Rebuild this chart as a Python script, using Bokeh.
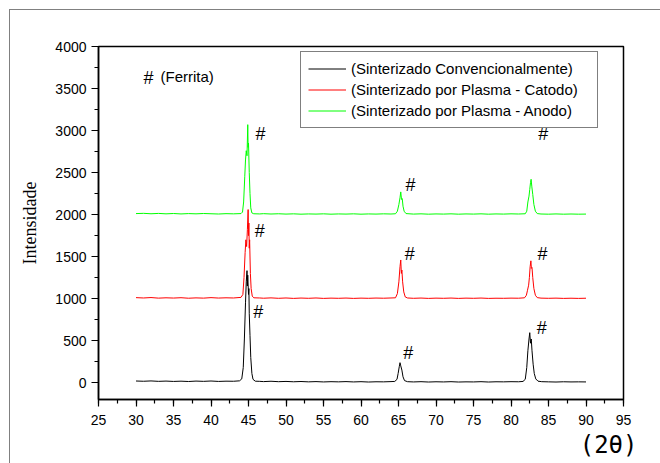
from bokeh.plotting import figure
from bokeh.models import Legend, LegendItem, Label, SingleIntervalTicker, Range1d, Title
from bokeh.embed import file_html
from bokeh.resources import INLINE
from bokeh.core.properties import value

# ---------------- data ----------------
series_names = ["(Sinterizado Convencionalmente)",
                "(Sinterizado por Plasma - Catodo)",
                "(Sinterizado por Plasma - Anodo)"]

conv_2theta = [30, 31, 32, 33, 34, 35, 36, 37, 38, 39, 40, 41, 42, 43, 43.8,
               44.1, 44.3, 44.45, 44.6, 44.7, 44.8, 44.85, 44.9, 45.0, 45.05, 45.1, 45.2, 45.3, 45.45, 45.6, 45.9,
               46.5, 47, 48, 49, 50, 51, 52, 53, 54, 55, 56, 57, 58, 59, 60, 61, 62, 63, 64,
               64.5, 64.8, 64.95, 65.1, 65.2, 65.3, 65.45, 65.6, 65.8, 66.2,
               67, 68, 69, 70, 71, 72, 73, 74, 75, 76, 77, 78, 79, 80, 81,
               81.6, 81.9, 82.1, 82.25, 82.4, 82.5, 82.6, 82.7, 82.8, 82.95, 83.1, 83.3, 83.6, 84.1,
               85, 86, 87, 88, 89, 90]
conv_int = [20, 17, 21, 16, 19, 15, 18, 14, 19, 16, 20, 15, 18, 17, 22,
            45, 180, 520, 950, 1200, 1333, 1150, 1280, 1050, 1120, 820, 560, 300, 110, 40, 18,
            16, 13, 17, 12, 15, 11, 14, 10, 13, 9, 12, 10, 13, 9, 12, 8, 11, 10, 13,
            15, 40, 110, 190, 238, 200, 150, 70, 25, 12,
            9, 12, 8, 11, 9, 12, 8, 10, 9, 12, 8, 11, 10, 12, 11,
            15, 40, 180, 380, 520, 595, 470, 520, 380, 220, 110, 45, 18, 12,
            10, 8, 11, 9, 10, 9]

cat_2theta = [30, 31, 32, 33, 34, 35, 36, 37, 38, 39, 40, 41, 42, 43, 44.0,
              44.25, 44.4, 44.55, 44.65, 44.75, 44.85, 44.95, 45.0, 45.05, 45.1, 45.15, 45.25, 45.35, 45.5, 45.7,
              46.5, 47, 48, 49, 50, 51, 52, 53, 54, 55, 56, 57, 58, 59, 60, 61, 62, 63, 64,
              64.6, 64.85, 65.05, 65.2, 65.3, 65.38, 65.45, 65.55, 65.7, 65.9, 66.2,
              67, 68, 69, 70, 71, 72, 73, 74, 75, 76, 77, 78, 79, 80, 81,
              81.8, 82.05, 82.2, 82.35, 82.45, 82.55, 82.65, 82.72, 82.8, 82.9, 83.05, 83.25, 83.5,
              84, 85, 86, 87, 88, 89, 90]
cat_int = [1012, 1008, 1013, 1006, 1010, 1007, 1011, 1005, 1009, 1006, 1012, 1007, 1010, 1008, 1015,
           1050, 1250, 1550, 1700, 1620, 1820, 2060, 1750, 1900, 1600, 1700, 1300, 1120, 1030, 1010,
           1008, 1005, 1009, 1004, 1008, 1003, 1007, 1004, 1008, 1003, 1006, 1004, 1007, 1003, 1006, 1004, 1007, 1005, 1008,
           1010, 1060, 1200, 1380, 1460, 1300, 1340, 1200, 1080, 1020, 1008,
           1004, 1007, 1003, 1006, 1004, 1007, 1003, 1006, 1004, 1007, 1003, 1005, 1004, 1006, 1005,
           1010, 1040, 1100, 1160, 1250, 1380, 1450, 1360, 1370, 1250, 1120, 1040, 1012,
           1006, 1004, 1006, 1003, 1005, 1003, 1005]

ano_2theta = [30, 31, 32, 33, 34, 35, 36, 37, 38, 39, 40, 41, 42, 43, 44.0,
              44.2, 44.35, 44.5, 44.6, 44.7, 44.8, 44.9, 44.95, 45.0, 45.1, 45.2, 45.3, 45.45, 45.7,
              46.5, 47, 48, 49, 50, 51, 52, 53, 54, 55, 56, 57, 58, 59, 60, 61, 62, 63, 64,
              64.6, 64.85, 65.05, 65.2, 65.3, 65.4, 65.5, 65.6, 65.75, 66.0,
              67, 68, 69, 70, 71, 72, 73, 74, 75, 76, 77, 78, 79, 80, 81,
              81.9, 82.1, 82.25, 82.4, 82.5, 82.6, 82.68, 82.78, 82.9, 83.05, 83.25, 83.5,
              84, 85, 86, 87, 88, 89, 90]
ano_int = [2012, 2015, 2010, 2014, 2009, 2013, 2008, 2012, 2009, 2013, 2010, 2007, 2011, 2009, 2012,
           2030, 2150, 2450, 2650, 2760, 2700, 3070, 2800, 2850, 2500, 2250, 2080, 2020, 2010,
           2008, 2011, 2007, 2010, 2006, 2009, 2005, 2008, 2006, 2009, 2005, 2008, 2006, 2009, 2005, 2008, 2006, 2009, 2007,
           2010, 2040, 2120, 2200, 2270, 2180, 2190, 2100, 2040, 2012,
           2006, 2009, 2005, 2008, 2006, 2009, 2005, 2008, 2006, 2009, 2005, 2008, 2006, 2009, 2007,
           2010, 2040, 2150, 2220, 2300, 2380, 2420, 2330, 2240, 2120, 2040, 2012,
           2007, 2005, 2008, 2005, 2007, 2005, 2006]

# peak markers "#"
mark_x = [46.6, 46.5, 46.3, 66.6, 66.5, 66.3, 84.3, 84.2, 84.1]
mark_y = [2964, 1810, 845, 2357, 1536, 357, 2964, 1536, 655]

x_ticks_interval = 5
y_ticks_interval = 500

# ---------------- figure ----------------
p = figure(width=650, height=453, output_backend="svg", toolbar_location=None,
           x_range=Range1d(25, 95), y_range=Range1d(-200, 4000),
           min_border_left=88, min_border_right=37, min_border_top=36, min_border_bottom=64)
p.margin = (10, 0, 0, 10)
p.styles = {"outline": "1px solid #808080"}

p.grid.visible = False
p.outline_line_color = "black"
p.outline_line_width = 1.5
p.outline_line_alpha = 1.0
p.background_fill_color = "white"
p.border_fill_color = "white"

p.xaxis.ticker = SingleIntervalTicker(interval=x_ticks_interval, num_minor_ticks=2)
p.yaxis.ticker = SingleIntervalTicker(interval=y_ticks_interval, num_minor_ticks=2)
for ax in (p.xaxis, p.yaxis):
    ax.axis_line_color = "black"
    ax.axis_line_width = 1.5
    ax.major_tick_line_color = "black"
    ax.minor_tick_line_color = "black"
    ax.major_tick_line_width = 1.2
    ax.minor_tick_line_width = 1.2
    ax.major_tick_out = 7
    ax.major_tick_in = 0
    ax.minor_tick_out = 4
    ax.minor_tick_in = 0
    ax.major_label_text_font = "Liberation Sans"
    ax.major_label_text_font_size = "14px"
    ax.major_label_text_color = "black"
p.xaxis.major_label_standoff = 8
p.yaxis.major_label_standoff = 5

p.yaxis.axis_label = "Intensidade"
p.yaxis.axis_label_text_font = "Liberation Serif"
p.yaxis.axis_label_text_font_size = "18px"
p.yaxis.axis_label_text_font_style = "normal"
p.yaxis.axis_label_text_color = "black"
p.yaxis.axis_label_standoff = 12

r1 = p.line(conv_2theta, conv_int, line_color="#000000", line_width=1)
r2 = p.line(cat_2theta, cat_int, line_color="#ff0000", line_width=1)
r3 = p.line(ano_2theta, ano_int, line_color="#00ff00", line_width=1)

p.text(x=mark_x, y=mark_y, text=["#"] * len(mark_x),
       text_font=value("Liberation Sans"), text_font_size="18px",
       text_align="center", text_baseline="middle", text_color="black")

p.add_layout(Label(x=31.67, y=3631, text="#", text_font="Liberation Sans",
                   text_font_size="18px", text_align="center", text_baseline="middle",
                   text_color="black"))
p.add_layout(Label(x=33.27, y=3643, text="(Ferrita)", text_font="Liberation Sans",
                   text_font_size="15px", text_align="left", text_baseline="middle",
                   text_color="black"))

xt = Title(text="(2θ)", align="right", offset=-14, standoff=2,
           text_font="DejaVu Sans Mono", text_font_size="24px",
           text_font_style="normal", text_color="black")
p.add_layout(xt, "below")

legend = Legend(items=[LegendItem(label=series_names[0], renderers=[r1]),
                       LegendItem(label=series_names[1], renderers=[r2]),
                       LegendItem(label=series_names[2], renderers=[r3])],
                location=(202, 271), margin=0, padding=7, spacing=2,
                glyph_width=38, glyph_height=19, label_height=19, label_standoff=5,
                label_width=239,
                label_text_font="Liberation Sans", label_text_font_size="15px",
                label_text_color="black",
                border_line_color="black", border_line_width=1,
                background_fill_color="white", background_fill_alpha=1.0)
p.add_layout(legend)

open("out.html", "w").write(file_html(p, INLINE))
